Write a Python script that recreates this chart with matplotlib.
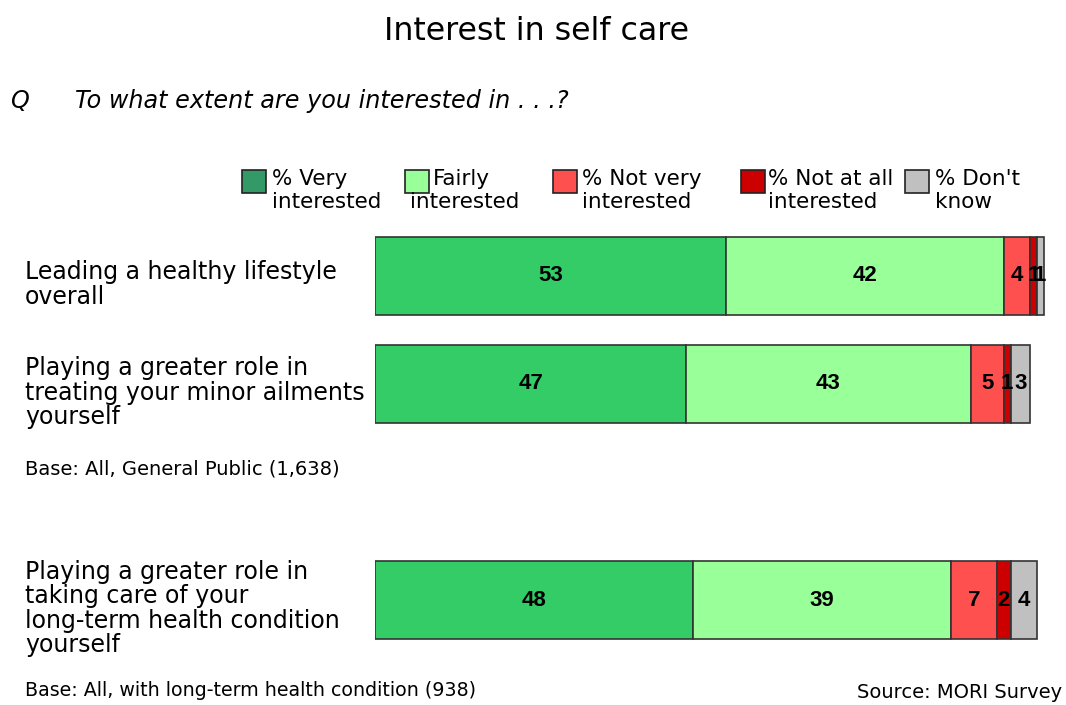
#!/usr/bin/env python3
"""Stacked horizontal bar chart: interest in self care (MORI survey)."""

import matplotlib
matplotlib.use('Agg')
import matplotlib.pyplot as plt
from matplotlib.patches import Rectangle

# Data
items = ['Leading a healthy lifestyle\noverall',
         'Playing a greater role in\ntreating your minor ailments\nyourself',
         'Playing a greater role in\ntaking care of your\nlong-term health condition\nyourself']
positions = [0, 1, 3]
series_line1 = ['% Very', 'Fairly', '% Not very', '% Not at all', "% Don't"]
series_line2 = ['interested', 'interested', 'interested', 'interested', 'know']
very = [53, 47, 48]
fairly = [42, 43, 39]
not_very = [4, 5, 7]
not_at_all = [1, 1, 2]
dont_know = [1, 3, 4]

values = [very, fairly, not_very, not_at_all, dont_know]
bar_colors = ['#33CC66', '#99FF99', '#FF5050', '#CC0000', '#C0C0C0']
swatch_colors = ['#339966', '#99FF99', '#FF5050', '#CC0000', '#C0C0C0']

W, H = 1066, 705
fig = plt.figure(figsize=(W / 100, H / 100), dpi=100)
plt.rcParams['font.family'] = ['DejaVu Sans']

# axes placed in pixel terms: value 0 at x=375, 6.62 px per point
x0, xs = 375, 6.62
xmax = 102
unit = 108.0            # px between bar centres
top_px, bot_px = 220, 660
c0 = 276                # centre of first bar in px
ax = fig.add_axes([x0 / W, 1 - bot_px / H, xmax * xs / W, (bot_px - top_px) / H])
ax.set_xlim(0, xmax)
ax.set_ylim((bot_px - c0) / unit, -(c0 - top_px) / unit)
ax.axis('off')

left = [0, 0, 0]
for vals, col in zip(values, bar_colors):
    ax.barh(positions, vals, left=left, height=0.73, color=col,
            edgecolor='#333333', linewidth=1.2)
    for p, l, v in zip(positions, left, vals):
        ax.text(l + v / 2, p, str(v), ha='center', va='center',
                fontsize=16, fontweight='bold', color='black',
                family='Liberation Sans')
    left = [a + b for a, b in zip(left, vals)]

# category labels
for p, lab in zip(positions, items):
    ax.text(-350 / xs, p + 0.08, lab, ha='left', va='center', fontsize=17,
            linespacing=1.03, clip_on=False)

# titles
fig.text(537 / W, 1 - 32 / H, 'Interest in self care', ha='center', va='center',
         fontsize=22.8)
fig.text(10 / W, 1 - 101 / H, 'Q', ha='left', va='center', fontsize=17.2, style='italic')
fig.text(75 / W, 1 - 101 / H, 'To what extent are you interested in . . .?',
         ha='left', va='center', fontsize=17.2, style='italic')

# legend
sw_x = [242, 405, 553, 741, 905]
tx1_x = [272, 433, 582, 768, 935]
tx2_x = [272, 410, 582, 768, 935]
for sx, t1, t2, l1, l2, col in zip(sw_x, tx1_x, tx2_x, series_line1,
                                   series_line2, swatch_colors):
    fig.patches.append(Rectangle((sx / W, 1 - 193 / H), 24 / W, 23 / H,
                                 transform=fig.transFigure, facecolor=col,
                                 edgecolor='#222222', linewidth=1.2))
    fig.text(t1 / W, 1 - 179 / H, l1, ha='left', va='center', fontsize=15.5)
    fig.text(t2 / W, 1 - 202 / H, l2, ha='left', va='center', fontsize=15.5)

# notes
fig.text(25 / W, 1 - 469 / H, 'Base: All, General Public (1,638)',
         ha='left', va='center', fontsize=14)
fig.text(25 / W, 1 - 690 / H, 'Base: All, with long-term health condition (938)',
         ha='left', va='center', fontsize=13.7)
fig.text(1062 / W, 1 - 692 / H, 'Source: MORI Survey',
         ha='right', va='center', fontsize=14)

fig.savefig('out.png', dpi=100)
